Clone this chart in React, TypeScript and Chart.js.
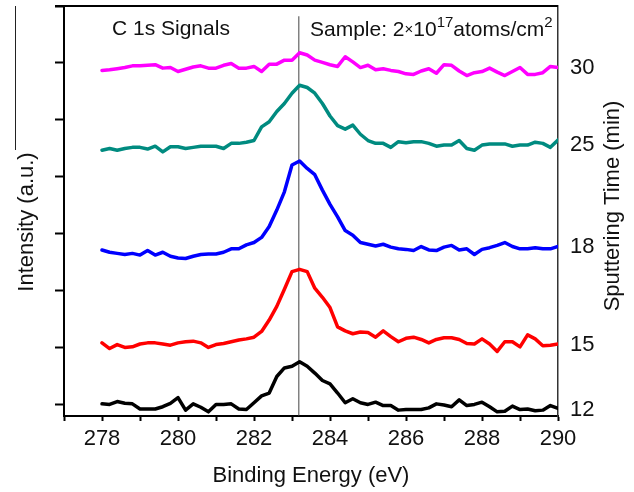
import React, { useEffect, useRef } from "react";
import { Chart, registerables } from "chart.js";

Chart.register(...registerables);

// Binding energy (eV) sample points
const energies = [
  278.0, 278.2, 278.4, 278.6, 278.8, 279.0, 279.2, 279.4, 279.6, 279.8,
  280.0, 280.2, 280.4, 280.6, 280.8, 281.0, 281.2, 281.4, 281.6, 281.8,
  282.0, 282.2, 282.4, 282.6, 282.8, 283.0, 283.2, 283.4, 283.6, 283.8,
  284.0, 284.2, 284.4, 284.6, 284.8, 285.0, 285.2, 285.4, 285.6, 285.8,
  286.0, 286.2, 286.4, 286.6, 286.8, 287.0, 287.2, 287.4, 287.6, 287.8,
  288.0, 288.2, 288.4, 288.6, 288.8, 289.0, 289.2, 289.4, 289.6, 289.8,
  290.0,
];

// Intensity (a.u., stacked with offsets) for each sputtering time
const min12 = [
  0.02, 0.01, 0.06, 0.03, 0.02, -0.07, -0.07, -0.07, -0.03, 0.03,
  0.13, -0.09, 0.02, -0.04, -0.12, 0.01, 0.01, 0.02, -0.07, -0.08,
  0.04, 0.16, 0.21, 0.5, 0.65, 0.68, 0.76, 0.68, 0.56, 0.43,
  0.37, 0.21, 0.04, 0.11, 0.04, 0.01, 0.05, -0.01, -0.01, -0.09,
  -0.08, -0.08, -0.08, -0.05, 0.02, 0.0, -0.03, 0.09, -0.01, 0.01,
  0.05, -0.03, -0.12, -0.11, -0.02, -0.08, -0.07, -0.1, -0.09, -0.01,
  -0.06,
];
const min15 = [
  1.09, 0.99, 1.06, 1.01, 1.02, 1.07, 1.09, 1.09, 1.07, 1.05,
  1.09, 1.11, 1.12, 1.09, 1.01, 1.06, 1.08, 1.11, 1.14, 1.16,
  1.19, 1.29, 1.49, 1.73, 2.03, 2.34, 2.38, 2.34, 2.05, 1.89,
  1.71, 1.37, 1.3, 1.25, 1.28, 1.27, 1.19, 1.3, 1.2, 1.11,
  1.17, 1.19, 1.15, 1.09, 1.15, 1.18, 1.18, 1.15, 1.08, 1.07,
  1.16, 1.07, 0.94, 1.11, 1.11, 1.02, 1.23, 1.16, 1.04, 1.05,
  1.07,
];
const min18 = [
  2.72, 2.68, 2.66, 2.64, 2.66, 2.63, 2.71, 2.63, 2.68, 2.61,
  2.58, 2.57, 2.61, 2.64, 2.65, 2.65, 2.68, 2.74, 2.74, 2.81,
  2.85, 2.94, 3.13, 3.42, 3.74, 4.21, 4.28, 4.15, 4.04, 3.77,
  3.52, 3.3, 3.06, 2.98, 2.85, 2.82, 2.79, 2.82, 2.77, 2.74,
  2.73, 2.71, 2.78, 2.72, 2.71, 2.77, 2.8, 2.72, 2.74, 2.64,
  2.73, 2.76, 2.8, 2.85, 2.78, 2.74, 2.74, 2.76, 2.74, 2.74,
  2.78,
];
const min25 = [
  4.47, 4.5, 4.47, 4.5, 4.52, 4.52, 4.49, 4.54, 4.44, 4.53,
  4.53, 4.5, 4.52, 4.54, 4.54, 4.54, 4.5, 4.59, 4.59, 4.61,
  4.64, 4.88, 4.97, 5.15, 5.29, 5.47, 5.61, 5.57, 5.47, 5.29,
  5.07, 4.9, 4.84, 4.91, 4.75, 4.64, 4.59, 4.59, 4.52, 4.62,
  4.6, 4.62, 4.62, 4.59, 4.54, 4.56, 4.56, 4.64, 4.5, 4.47,
  4.56, 4.58, 4.58, 4.58, 4.54, 4.56, 4.56, 4.61, 4.59, 4.52,
  4.65,
];
const min30 = [
  5.87, 5.88, 5.9, 5.92, 5.95, 5.95, 5.96, 5.97, 5.91, 5.92,
  5.85, 5.89, 5.93, 5.95, 5.91, 5.91, 5.96, 5.99, 5.91, 5.91,
  5.94, 5.85, 5.98, 5.98, 6.05, 6.05, 6.18, 6.14, 6.05, 6.01,
  5.97, 5.94, 6.11, 6.02, 5.92, 5.96, 5.88, 5.9, 5.87, 5.85,
  5.81, 5.8, 5.86, 5.9, 5.82, 5.97, 5.96, 5.86, 5.78, 5.83,
  5.85, 5.91, 5.84, 5.78, 5.85, 5.92, 5.8, 5.8, 5.83, 5.94,
  5.92,
];

// Right-axis sputtering time labels and where they sit on the intensity scale
const sputterLabels = ["12", "15", "18", "25", "30"];
const sputterLevels = [-0.09, 1.05, 2.77, 4.56, 5.91];

// Axis settings
const xMin = 277;
const xMax = 290;
const yMin = -0.193;
const yMax = 7;
const yTickValues = [0, 1, 2, 3, 4, 5, 6, 7];

// Peak reference line
const refEnergy = 283.18;
const refRange = [-0.19, 6.82];

const FONT = '"Liberation Sans", Arial, sans-serif';

function toXY(ys: number[]) {
  return ys.map((y, i) => ({ x: energies[i], y }));
}

const textPlugin = {
  id: "textPlugin",
  afterDraw(chart: any) {
    const ctx = chart.ctx as CanvasRenderingContext2D;
    const { left, right, top } = chart.chartArea;
    ctx.save();
    // top frame line
    ctx.strokeStyle = "#000";
    ctx.lineWidth = 2;
    ctx.beginPath();
    ctx.moveTo(left - 9, top);
    ctx.lineTo(right, top);
    ctx.stroke();

    // stray frame line at the far left
    ctx.lineWidth = 1;
    ctx.strokeStyle = "#222";
    ctx.beginPath();
    ctx.moveTo(15.5, top);
    ctx.lineTo(15.5, 150);
    ctx.stroke();

    ctx.fillStyle = "#111";
    ctx.textBaseline = "alphabetic";
    ctx.textAlign = "left";
    ctx.font = `21px ${FONT}`;
    ctx.fillText("C 1s Signals", 112, 35);

    // Sample annotation with superscripts
    let x = 310;
    const base = 36;
    const big = `21px ${FONT}`;
    const small = `15px ${FONT}`;
    const seg = (t: string, font: string, dy: number) => {
      ctx.font = font;
      ctx.fillText(t, x, base + dy);
      x += ctx.measureText(t).width;
    };
    seg("Sample: 2", big, 0);
    seg("\u00d7", small, -2);
    seg("10", big, 0);
    seg("17", small, -9);
    seg("atoms/cm", big, 0);
    seg("2", small, -9);

    // axis titles
    ctx.font = `22px ${FONT}`;
    ctx.textAlign = "center";
    ctx.fillText("Binding Energy (eV)", (left + right) / 2, 482);

    ctx.save();
    ctx.translate(33, 222);
    ctx.rotate(-Math.PI / 2);
    ctx.fillText("Intensity (a.u.)", 0, 0);
    ctx.restore();

    ctx.save();
    ctx.translate(619, 206);
    ctx.rotate(-Math.PI / 2);
    ctx.fillText("Sputtering Time (min)", 0, 0);
    ctx.restore();

    ctx.restore();
  },
};

const noPad = (s: any) => {
  s.paddingTop = 0;
  s.paddingBottom = 0;
};

export default function App() {
  const ref = useRef<HTMLCanvasElement | null>(null);

  useEffect(() => {
    if (!ref.current) return;
    const line = (data: number[], color: string) => ({
      data: toXY(data),
      borderColor: color,
      backgroundColor: color,
      borderWidth: 3.5,
      borderJoinStyle: "round" as const,
      borderCapStyle: "round" as const,
      pointRadius: 0,
      tension: 0,
      fill: false,
      yAxisID: "y",
    });
    const chart = new Chart(ref.current, {
      type: "line",
      data: {
        datasets: [
          line(min30, "#ff00ff"),
          line(min25, "#008b80"),
          line(min18, "#0000ff"),
          line(min15, "#ff0000"),
          line(min12, "#000000"),
          {
            data: [
              { x: refEnergy, y: refRange[0] },
              { x: refEnergy, y: refRange[1] },
            ],
            borderColor: "#444",
            borderWidth: 1,
            pointRadius: 0,
            fill: false,
            yAxisID: "y",
          },
        ],
      },
      options: {
        responsive: false,
        animation: false,
        devicePixelRatio: 1,
        layout: { padding: { top: 6, left: 0, right: 0, bottom: 0 } },
        plugins: {
          legend: { display: false },
          tooltip: { enabled: false },
        },
        scales: {
          x: {
            type: "linear",
            position: "bottom",
            min: xMin,
            max: xMax,
            afterFit: (s: any) => {
              s.height = 76;
              s.paddingLeft = 0;
              s.paddingRight = 0;
            },
            ticks: {
              stepSize: 1,
              autoSkip: false,
              maxRotation: 0,
              padding: 5,
              color: "#111",
              font: { family: FONT, size: 22 },
              callback: (v: any) => (Number(v) % 2 === 0 ? String(v) : ""),
            },
            grid: {
              drawOnChartArea: false,
              drawTicks: true,
              tickLength: 5,
              tickColor: "#000",
              tickWidth: 2,
            },
            border: { display: true, color: "#000", width: 2 },
          },
          y: {
            type: "linear",
            position: "left",
            min: yMin,
            max: yMax,
            afterFit: (s: any) => {
              s.width = 64;
              noPad(s);
            },
            afterBuildTicks: (s: any) => {
              s.ticks = yTickValues.map((value) => ({ value }));
            },
            ticks: {
              callback: () => "",
              padding: 0,
            },
            grid: {
              drawOnChartArea: false,
              drawTicks: true,
              tickLength: 9,
              tickColor: "#000",
              tickWidth: 2,
            },
            border: { display: true, color: "#000", width: 2 },
          },
          y2: {
            type: "linear",
            position: "right",
            min: yMin,
            max: yMax,
            afterFit: (s: any) => {
              s.width = 76;
              noPad(s);
            },
            afterBuildTicks: (s: any) => {
              s.ticks = sputterLevels.map((value) => ({ value }));
            },
            ticks: {
              padding: 12,
              color: "#111",
              font: { family: FONT, size: 22 },
              callback: (_v: any, i: number) => sputterLabels[i],
            },
            grid: { drawOnChartArea: false, drawTicks: false },
            border: { display: true, color: "#333", width: 1.5 },
          },
        },
      },
      plugins: [textPlugin],
    });
    return () => chart.destroy();
  }, []);

  return (
    <div style={{ position: "fixed", left: 0, top: 0, width: 634, height: 492, background: "#fff" }}>
      <canvas ref={ref} width={634} height={492} style={{ width: 634, height: 492 }} />
    </div>
  );
}
